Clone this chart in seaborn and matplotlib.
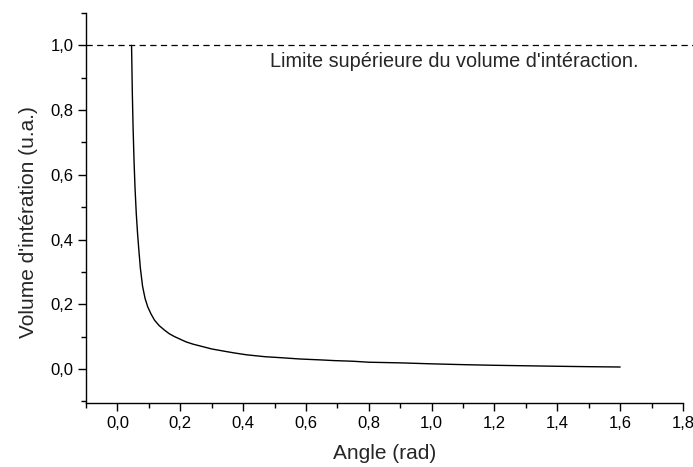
import matplotlib
matplotlib.use("Agg")
import matplotlib.pyplot as plt
import seaborn as sns
import pandas as pd
from matplotlib.ticker import MultipleLocator, FuncFormatter

angle = [0.045, 0.0475, 0.050, 0.053, 0.056, 0.060, 0.064, 0.068, 0.073, 0.080,
         0.088, 0.0965, 0.107, 0.118, 0.133, 0.150, 0.165, 0.182, 0.2, 0.218, 0.24,
         0.26, 0.3, 0.34, 0.37, 0.41, 0.47, 0.52, 0.58, 0.65, 0.69, 0.75,
         0.80, 0.85, 0.90, 1.0, 1.1, 1.2, 1.3, 1.4, 1.5, 1.6]
volume = [1.0, 0.85, 0.74, 0.64, 0.56, 0.48, 0.42, 0.37, 0.312, 0.256,
          0.218, 0.192, 0.170, 0.151, 0.134, 0.120, 0.109, 0.100, 0.092, 0.084, 0.077,
          0.072, 0.062, 0.055, 0.050, 0.044, 0.038, 0.035, 0.031, 0.028, 0.026, 0.024,
          0.021, 0.020, 0.019, 0.016, 0.0135, 0.0115, 0.010, 0.0085, 0.0072, 0.0062]
limit_value = 1.0
limit_text = "Limite supérieure du volume d'intéraction."
x_label = "Angle (rad)"
y_label = "Volume d'intération (u.a.)"

sns.set_style("ticks")
plt.rcParams['font.family'] = ['Liberation Sans', 'DejaVu Sans']

df = pd.DataFrame({"angle": angle, "volume": volume})

fig = plt.figure(figsize=(6.93, 4.67), dpi=100)
ax = fig.add_axes([86/693, (467-403)/467, (683-86)/693, (403-13)/467])

sns.lineplot(data=df, x="angle", y="volume", ax=ax, color="black", linewidth=1.0)

ax.plot([-0.1, 1.835], [limit_value, limit_value], color="black", linewidth=0.9,
        linestyle=(0, (5, 3.5)), clip_on=False)
ax.text(0.485, 0.951, limit_text, fontsize=14.3, va="center", ha="left")

ax.set_xlim(-0.1, 1.8)
ax.set_ylim(-0.105, 1.1)

ax.xaxis.set_major_locator(MultipleLocator(0.2))
ax.xaxis.set_minor_locator(MultipleLocator(0.1))
ax.yaxis.set_major_locator(MultipleLocator(0.2))
ax.yaxis.set_minor_locator(MultipleLocator(0.1))
fmt = FuncFormatter(lambda v, p: f"{v:.1f}".replace(".", ",").replace("-0,0", "0,0"))
ax.xaxis.set_major_formatter(fmt)
ax.yaxis.set_major_formatter(fmt)

ax.tick_params(which="major", length=6, width=1, direction="out", labelsize=12,
               colors="black", pad=3)
ax.tick_params(which="minor", length=3.5, width=1, direction="out", colors="black")

for s in ["top", "right"]:
    ax.spines[s].set_visible(False)
for s in ["left", "bottom"]:
    ax.spines[s].set_linewidth(1.0)
    ax.spines[s].set_color("black")

ax.set_xlabel(x_label, fontsize=15)
ax.set_ylabel(y_label, fontsize=15)
ax.yaxis.set_label_coords(-0.080, 0.465)
ax.xaxis.set_label_coords(0.5, -0.104)

fig.savefig("out.png", dpi=100)
